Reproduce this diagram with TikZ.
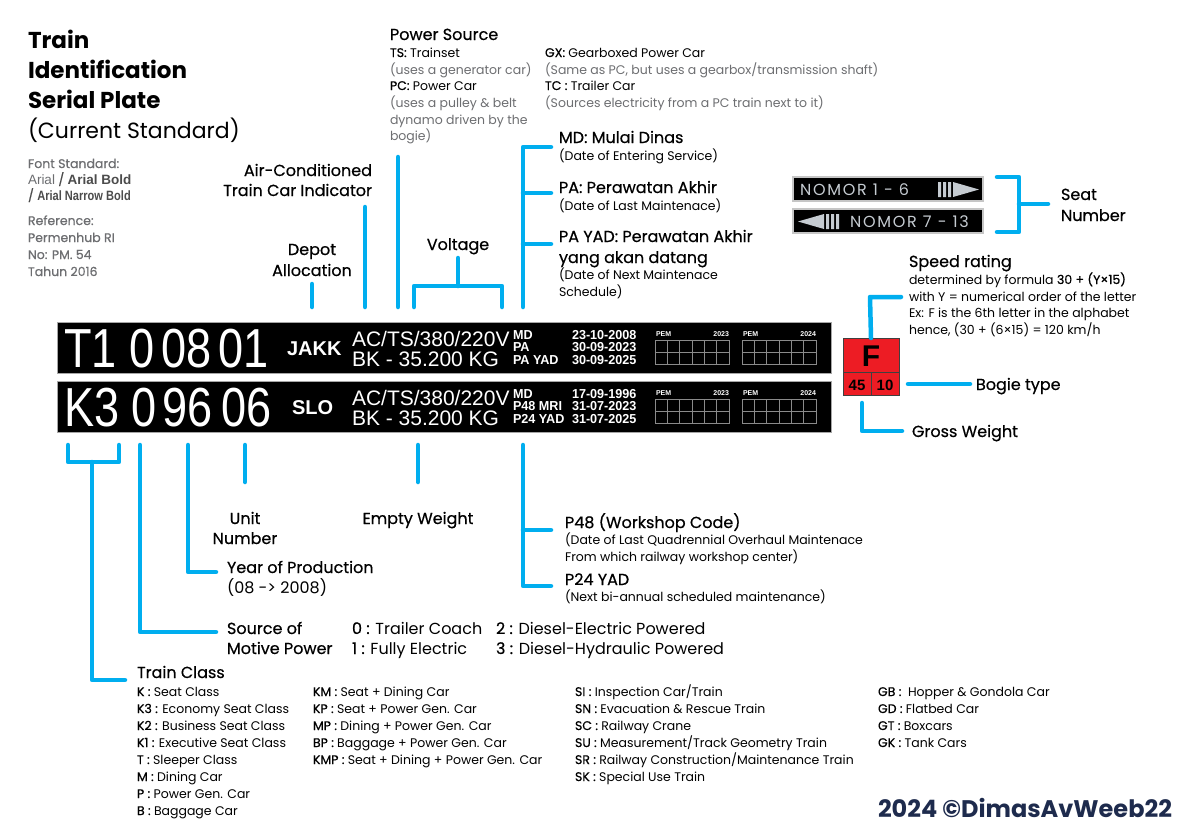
\documentclass[tikz,border=0pt]{standalone}
\usepackage{fontspec}
\setmainfont{Poppins}
\newfontfamily\med{Poppins}[FakeBold=0.5]
\newfontfamily\badgefont{Poppins}[LetterSpace=11]
\newfontfamily\arial{Liberation Sans}
\newfontfamily\arialn{Liberation Sans}[FakeStretch=0.82]
\newfontfamily\arials{Liberation Sans}[FakeStretch=0.97]
\newcommand\FSz[1]{\fontsize{#1}{#1}\selectfont}
\newcommand\Lbl[5]{\node[#4] (#1) at (#2,#3) {#5};}
\definecolor{cb}{HTML}{00AEEF}
\definecolor{graytxt}{HTML}{6D6E71}
\definecolor{navy}{HTML}{1E2B4D}
\definecolor{fred}{HTML}{ED1C24}
\definecolor{badgetxt}{HTML}{C5CBD1}
\definecolor{gridc}{HTML}{8A8A8A}
\begin{document}
\begin{tikzpicture}[x=1pt,y=-1pt,
  every node/.style={inner sep=0pt,outer sep=0pt},
  lt/.style={anchor=base west},
  title/.style={lt,font=\bfseries\FSz{23}},
  note/.style={lt,font=\med\FSz{12.5},text=graytxt},
  head/.style={lt,font=\med\FSz{16}},
  headc/.style={anchor=base,font=\med\FSz{16}},
  body/.style={lt,font=\FSz{12.5}},
  gbody/.style={body,text=graytxt},
  reg/.style={lt,font=\FSz{16}},
  big/.style={lt,font=\arialn\FSz{55},text=white},
  depot/.style={lt,font=\arial\bfseries\FSz{20},text=white},
  spec/.style={lt,font=\arial\FSz{21},text=white},
  small/.style={lt,font=\arials\bfseries\FSz{13},text=white},
  pem/.style={font=\arial\bfseries\FSz{7},text=white},
  plate/.style={fill=black,draw=gray!70,line width=0.8pt,minimum width=774pt,minimum height=51pt,anchor=north west},
  gridl/.style={draw=gridc,line width=0.8pt},
  conn/.style={draw=cb,line width=4.5pt,line cap=round,line join=round},
  badge/.style={fill=black,draw=gray!45,line width=1.5pt,minimum width=190pt,minimum height=24pt,anchor=north west},
  btxt/.style={lt,font=\badgefont\FSz{16},text=badgetxt},
  cls/.style={lt,font=\FSz{12.5}}
]
\path[use as bounding box,fill=white] (0,0) rectangle (1200,836);

% ---------- title block ----------
\Lbl{t1}{28}{48}{title}{Train}
\Lbl{t2}{28}{78}{title}{Identification}
\Lbl{t3}{28}{108}{title}{Serial Plate}
\Lbl{t4}{28}{138}{lt,font=\FSz{22}}{(Current Standard)}
\Lbl{f1}{28}{168}{note}{Font Standard:}
\Lbl{f2}{28}{184}{note}{{\arial\mdseries\FSz{13.5}Arial} {\color{black!70}/ {\arial\bfseries\FSz{13.5}Arial Bold}}}
\Lbl{f3}{28}{200}{note}{{\color{black!70}/ {\arialn\bfseries\FSz{13.5}Arial Narrow Bold}}}
\Lbl{r1}{28}{225}{note}{Reference:}
\Lbl{r2}{28}{242}{note}{Permenhub RI}
\Lbl{r3}{28}{259}{note}{No: PM. 54}
\Lbl{r4}{28}{276}{note}{Tahun 2016}

% ---------- top labels ----------
\Lbl{ac1}{372}{176}{head,anchor=base east}{Air-Conditioned}
\Lbl{ac2}{372}{196}{head,anchor=base east}{Train Car Indicator}
\Lbl{dp1}{312}{255}{headc}{Depot}
\Lbl{dp2}{312}{276}{headc}{Allocation}
\Lbl{vo}{458}{250}{headc}{Voltage}
\Lbl{ps}{390}{40}{head}{Power Source}
\Lbl{ps1}{390}{57}{body}{{\med TS:} Trainset}
\Lbl{ps2}{390}{74}{gbody}{(uses a generator car)}
\Lbl{ps3}{390}{90}{body}{{\med PC:} Power Car}
\Lbl{ps4}{390}{107}{gbody}{(uses a pulley \& belt}
\Lbl{ps5}{390}{124}{gbody}{dynamo driven by the}
\Lbl{ps6}{390}{140}{gbody}{bogie)}
\Lbl{gx1}{545}{57}{body}{{\med GX:} Gearboxed Power Car}
\Lbl{gx2}{545}{74}{gbody}{(Same as PC, but uses a gearbox/transmission shaft)}
\Lbl{gx3}{545}{90}{body}{{\med TC :} Trailer Car}
\Lbl{gx4}{545}{107}{gbody}{(Sources electricity from a PC train next to it)}
\Lbl{md1}{559}{143}{head}{MD: Mulai Dinas}
\Lbl{md2}{559}{160}{body}{(Date of Entering Service)}
\Lbl{pa1}{559}{193}{head}{PA: Perawatan Akhir}
\Lbl{pa2}{559}{210}{body}{(Date of Last Maintenace)}
\Lbl{py1}{559}{242}{head}{PA YAD: Perawatan Akhir}
\Lbl{py2}{559}{263}{head}{yang akan datang}
\Lbl{py3}{559}{279}{body}{(Date of Next Maintenace}
\Lbl{py4}{559}{296}{body}{Schedule)}

% ---------- seat badges ----------
\node[badge] (b1) at (793,177) {};
\node[badge] (b2) at (793,209) {};
\Lbl{b1t}{800}{195}{btxt}{NOMOR 1 - 6}
\Lbl{b2t}{850}{227}{btxt}{NOMOR 7 - 13}
\fill[badgetxt] (938,182) rectangle (941,197) (943,182) rectangle (946,197) (948,182) rectangle (951,197);
\fill[badgetxt] (953,182) -- (979,189.5) -- (953,197) -- cycle;
\fill[badgetxt] (826,214) rectangle (829,229) (831,214) rectangle (834,229) (836,214) rectangle (839,229);
\fill[badgetxt] (824,214) -- (798,221.5) -- (824,229) -- cycle;
\Lbl{sn1}{1061}{200}{head}{Seat}
\Lbl{sn2}{1061}{221}{head}{Number}

% ---------- speed rating ----------
\Lbl{sp0}{909}{267}{head}{Speed rating}
\Lbl{sp1}{909}{284}{body}{determined by formula {\med 30 + (Y×15)}}
\Lbl{sp2}{909}{301}{body}{with Y = numerical order of the letter}
\Lbl{sp3}{909}{317}{body}{Ex: F is the 6th letter in the alphabet}
\Lbl{sp4}{909}{334}{body}{hence, (30 + (6×15) = 120 km/h}
\Lbl{bg}{976}{390}{head}{Bogie type}
\Lbl{gw}{912}{437}{head}{Gross Weight}

% ---------- plates ----------
\node[plate] (plate1) at (57,322) {};
\node[plate] (plate2) at (57,381) {};
\Lbl{a1}{64}{367}{big}{T1}
\Lbl{a2}{129}{367}{big}{0}
\Lbl{a3}{161}{367}{big}{08}
\Lbl{a4}{218}{367}{big}{01}
\Lbl{a5}{287}{355}{depot}{JAKK}
\Lbl{a6}{352}{346}{spec}{AC/TS/380/220V}
\Lbl{a7}{352}{366}{spec}{BK - 35.200 KG}
\Lbl{a8}{513}{339}{small}{MD}
\Lbl{a9}{513}{351.5}{small}{PA}
\Lbl{a10}{513}{364}{small}{PA YAD}
\Lbl{a11}{572}{339}{small}{23-10-2008}
\Lbl{a12}{572}{351.5}{small}{30-09-2023}
\Lbl{a13}{572}{364}{small}{30-09-2025}
\Lbl{k1}{64}{426}{big}{K3}
\Lbl{k2}{131}{426}{big}{0}
\Lbl{k3}{162}{426}{big}{96}
\Lbl{k4}{221}{426}{big}{06}
\Lbl{k5}{292}{414}{depot}{SLO}
\Lbl{k6}{352}{405}{spec}{AC/TS/380/220V}
\Lbl{k7}{352}{425}{spec}{BK - 35.200 KG}
\Lbl{k8}{513}{398}{small}{MD}
\Lbl{k9}{513}{410.5}{small}{P48 MRI}
\Lbl{k10}{513}{423}{small}{P24 YAD}
\Lbl{k11}{572}{398}{small}{17-09-1996}
\Lbl{k12}{572}{410.5}{small}{31-07-2023}
\Lbl{k13}{572}{423}{small}{31-07-2025}
\foreach \gx/\gy/\yr [count=\n] in {655/340/2023, 742/340/2024, 655/399/2023, 742/399/2024} {
  \draw[gridl] (\gx,\gy) rectangle ++(74,24);
  \foreach \i in {1,...,5} \draw[gridl] (\gx+\i*74/6,\gy) -- ++(0,24);
  \draw[gridl] (\gx,\gy+12) -- ++(74,0);
  \node[pem,anchor=base west] (pem\n) at (\gx+1,\gy-4) {PEM};
  \node[pem,anchor=base east] (yr\n) at (\gx+74,\gy-4) {\yr};
}

% ---------- F box ----------
\node[fill=fred,draw=black!75,line width=1pt,minimum width=56pt,minimum height=57pt,anchor=north west] (fbox) at (843,338) {};
\draw[black!75,line width=1pt] (843,372) -- (899,372) (871,372) -- (871,395);
\Lbl{fF}{871}{366}{anchor=base,font=\arial\bfseries\FSz{30}}{F}
\Lbl{f45}{857}{390}{anchor=base,font=\arial\bfseries\FSz{15}}{45}
\Lbl{f10}{885}{390}{anchor=base,font=\arial\bfseries\FSz{15}}{10}

% ---------- bottom labels ----------
\Lbl{un1}{245}{524}{headc}{Unit}
\Lbl{un2}{245}{544}{headc}{Number}
\Lbl{ew}{418}{524}{headc}{Empty Weight}
\Lbl{yp1}{227}{573}{head}{Year of Production}
\Lbl{yp2}{227}{593}{reg}{(08 -> 2008)}
\Lbl{so1}{227}{634}{head}{Source of}
\Lbl{so2}{227}{654}{head}{Motive Power}
\Lbl{m0}{352}{634}{reg}{{\med 0 :} Trailer Coach}
\Lbl{m1}{352}{654}{reg}{{\med 1 :} Fully Electric}
\Lbl{m2}{496}{634}{reg}{{\med 2 :} Diesel-Electric Powered}
\Lbl{m3}{496}{654}{reg}{{\med 3 :} Diesel-Hydraulic Powered}
\Lbl{p48a}{565}{528}{head}{P48 (Workshop Code)}
\Lbl{p48b}{565}{544}{body}{(Date of Last Quadrennial Overhaul Maintenace}
\Lbl{p48c}{565}{561}{body}{From which railway workshop center)}
\Lbl{p24a}{565}{585}{head}{P24 YAD}
\Lbl{p24b}{565}{601}{body}{(Next bi-annual scheduled maintenance)}
\Lbl{tc}{137}{678}{head}{Train Class}

\Lbl{c11}{137}{696}{cls}{{\med K :} Seat Class}
\Lbl{c12}{137}{713}{cls}{{\med K3 :} Economy Seat Class}
\Lbl{c13}{137}{730}{cls}{{\med K2 :} Business Seat Class}
\Lbl{c14}{137}{747}{cls}{{\med K1 :} Executive Seat Class}
\Lbl{c15}{137}{764}{cls}{{\med T :} Sleeper Class}
\Lbl{c16}{137}{781}{cls}{{\med M :} Dining Car}
\Lbl{c17}{137}{798}{cls}{{\med P :} Power Gen. Car}
\Lbl{c18}{137}{815}{cls}{{\med B :} Baggage Car}
\Lbl{c21}{313}{696}{cls}{{\med KM :} Seat + Dining Car}
\Lbl{c22}{313}{713}{cls}{{\med KP :} Seat + Power Gen. Car}
\Lbl{c23}{313}{730}{cls}{{\med MP :} Dining + Power Gen. Car}
\Lbl{c24}{313}{747}{cls}{{\med BP :} Baggage + Power Gen. Car}
\Lbl{c25}{313}{764}{cls}{{\med KMP :} Seat + Dining + Power Gen. Car}
\Lbl{c31}{575}{696}{cls}{{\med SI :} Inspection Car/Train}
\Lbl{c32}{575}{713}{cls}{{\med SN :} Evacuation \& Rescue Train}
\Lbl{c33}{575}{730}{cls}{{\med SC :} Railway Crane}
\Lbl{c34}{575}{747}{cls}{{\med SU :} Measurement/Track Geometry Train}
\Lbl{c35}{575}{764}{cls}{{\med SR :} Railway Construction/Maintenance Train}
\Lbl{c36}{575}{781}{cls}{{\med SK :} Special Use Train}
\Lbl{c41}{878}{696}{cls}{{\med GB :}\ \ Hopper \& Gondola Car}
\Lbl{c42}{878}{713}{cls}{{\med GD :} Flatbed Car}
\Lbl{c43}{878}{730}{cls}{{\med GT :} Boxcars}
\Lbl{c44}{878}{747}{cls}{{\med GK :} Tank Cars}
\Lbl{foot}{878}{817}{lt,font=\bfseries\FSz{24},text=navy}{2024 ©DimasAvWeeb22}

% ---------- connectors (top) ----------
\coordinate (dpT) at (312,284); \coordinate (dpB) at (312,307);
\coordinate (acT) at (365,207); \coordinate (acB) at (365,307);
\coordinate (psT) at (398,157); \coordinate (psB) at (398,307);
\coordinate (voL) at (414,307); \coordinate (voR) at (502,307); \coordinate (voS) at (458,258);
\coordinate (mdB) at (523,307);
\draw[conn] (dpT) -- (dpB);
\draw[conn] (acT) -- (acB);
\draw[conn] (psT) -- (psB);
\draw[conn] (voL) -- (414,286) -- (502,286) -- (voR);
\draw[conn] (voS) -- (458,286);
\draw[conn] (551,147) -- (523,147) -- (mdB);
\draw[conn] (523,193) -- (551,193);
\draw[conn] (523,244) -- (551,244);
% seat bracket
\draw[conn] (997,177) -- (1019,177) -- (1019,232) -- (997,232);
\draw[conn] (1019,204) -- (1048,204);
% speed / bogie / gross
\coordinate (spE) at (901,297);
\draw[conn] (fbox.north) -- (870,297) -- (spE);
\coordinate (bgS) at (908,384); \coordinate (bgE) at (970,384);
\draw[conn] (bgS) -- (bgE);
\coordinate (gwS) at (862,403); \coordinate (gwE) at (902,431);
\draw[conn] (gwS) -- (862,431) -- (gwE);

% ---------- connectors (bottom) ----------
\draw[conn] (68,445) -- (68,462) -- (119,462) -- (119,445);
\draw[conn] (92,462) -- (92,680) -- (125,680);
\draw[conn] (140,445) -- (140,632) -- (216,632);
\draw[conn] (188,445) -- (188,572) -- (216,572);
\draw[conn] (245,445) -- (245,482);
\draw[conn] (418,445) -- (418,482);
\draw[conn] (523,445) -- (523,586) -- (551,586);
\draw[conn] (523,530) -- (551,530);
\end{tikzpicture}
\end{document}
